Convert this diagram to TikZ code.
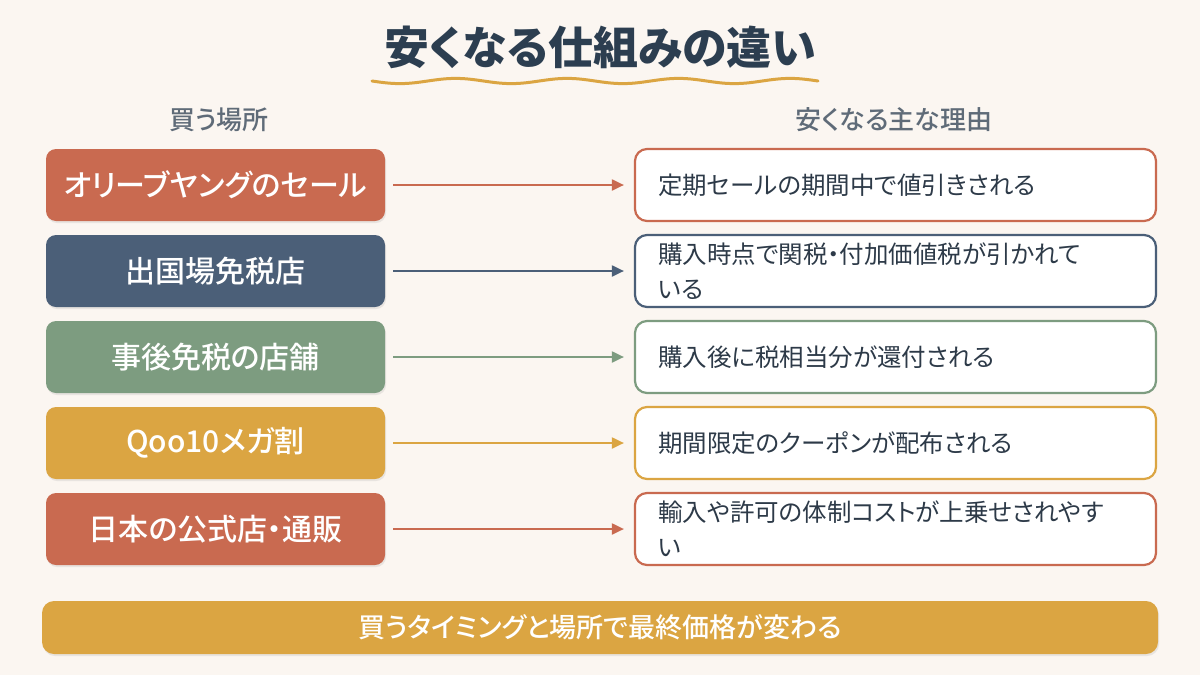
\documentclass[tikz,border=0pt]{standalone}
\usepackage{fontspec}
\setmainfont{Noto Sans CJK JP}[RawFeature=+palt]
\newfontfamily\jpmed{Noto Sans CJK JP Medium}[RawFeature=+palt]
\usetikzlibrary{shadows,arrows.meta}
\definecolor{bg}{HTML}{FBF6F1}
\definecolor{terra}{HTML}{C96A50}
\definecolor{navy}{HTML}{4B5F78}
\definecolor{sage}{HTML}{7D9C80}
\definecolor{gold}{HTML}{DBA542}
\definecolor{titlec}{HTML}{2C3E50}
\definecolor{grayc}{HTML}{5F6B78}
\definecolor{textc}{HTML}{2D3A48}
\tikzset{
  leftbox/.style={fill=#1, rounded corners=10pt, minimum width=339pt, minimum height=72pt,
    text=white, font=\jpmed\fontsize{30}{36}\selectfont, inner sep=0pt,
    drop shadow={shadow xshift=1pt, shadow yshift=-2pt, opacity=0.15}},
  rightbox/.style={draw=#1, line width=2.2pt, fill=white, rounded corners=12pt,
    text width=475pt, inner xsep=23pt, inner ysep=0pt, minimum height=72pt, align=left,
    text=textc, font=\fontsize{24.5}{35}\selectfont},
  arr/.style={draw=#1, line width=2pt, -{Stealth[length=12pt,width=11pt,inset=0pt]}},
  header/.style={text=grayc, font=\jpmed\fontsize{26}{30}\selectfont},
}
\begin{document}
\begin{tikzpicture}[x=1pt,y=-1pt]
\useasboundingbox (0,0) rectangle (1200,675);
\fill[bg] (0,0) rectangle (1200,675);
% title
\node[text=titlec, font=\bfseries\fontsize{45}{50}\selectfont] (title) at (600,47) {安くなる仕組みの違い};
\draw[gold, line width=3pt, line cap=round] plot[domain=372:818, samples=150] (\x, {81+2.6*sin((\x-372)/446*4*360)});
% headers
\node[header] (h1) at (219,120) {買う場所};
\node[header] (h2) at (894,120) {安くなる主な理由};
% left boxes
\node[leftbox=terra] (l1) at (215.5,185) {オリーブヤングのセール};
\node[leftbox=navy] (l2) at (215.5,271) {出国場免税店};
\node[leftbox=sage] (l3) at (215.5,357) {事後免税の店舗};
\node[leftbox=gold] (l4) at (215.5,443) {Qoo10メガ割};
\node[leftbox=terra] (l5) at (215.5,529) {日本の公式店・通販};
% right boxes
\node[rightbox=terra] (r1) at (895.5,185) {定期セールの期間中で値引きされる};
\node[rightbox=navy] (r2) at (895.5,271) {購入時点で関税・付加価値税が引かれて\\いる};
\node[rightbox=sage] (r3) at (895.5,357) {購入後に税相当分が還付される};
\node[rightbox=gold] (r4) at (895.5,443) {期間限定のクーポンが配布される};
\node[rightbox=terra] (r5) at (895.5,529) {輸入や許可の体制コストが上乗せされやす\\い};
% arrows
\draw[arr=terra] ([xshift=8pt]l1.east) -- ([xshift=-10pt]r1.west);
\draw[arr=navy] ([xshift=8pt]l2.east) -- ([xshift=-10pt]r2.west);
\draw[arr=sage] ([xshift=8pt]l3.east) -- ([xshift=-10pt]r3.west);
\draw[arr=gold] ([xshift=8pt]l4.east) -- ([xshift=-10pt]r4.west);
\draw[arr=terra] ([xshift=8pt]l5.east) -- ([xshift=-10pt]r5.west);
% bottom bar
\node[fill=gold, rounded corners=12pt, minimum width=1116pt, minimum height=53pt, inner sep=0pt,
  text=white, font=\jpmed\fontsize{27}{32}\selectfont,
  drop shadow={shadow xshift=1pt, shadow yshift=-2pt, opacity=0.15}] (bar) at (600,627.5) {買うタイミングと場所で最終価格が変わる};
\end{tikzpicture}
\end{document}
